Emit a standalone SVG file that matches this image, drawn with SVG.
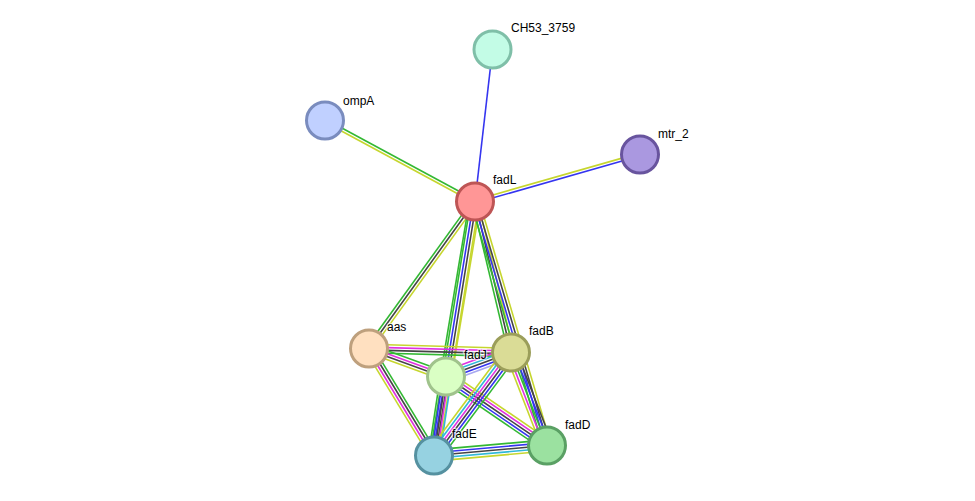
<svg xmlns="http://www.w3.org/2000/svg" width="975" height="501" viewBox="0 0 975 501">
<style>
line{stroke-width:1.6;fill:none}
.g{stroke:#33b833}.b{stroke:#3535f0}.k{stroke:#454545}.y{stroke:#c6d62e}.m{stroke:#e030e0}.c{stroke:#30b8d8}.l{stroke:#a8a8f0}
circle{stroke-width:3}
text{font-family:"Liberation Sans",Arial,sans-serif;font-size:12px;fill:#000;stroke:#fff;stroke-width:2.5;stroke-opacity:0.6;paint-order:stroke}
</style>
<rect width="975" height="501" fill="#fff"/>
<g id="connectors">
 <g transform="translate(475,201.5) rotate(-83.43)"><line x2="153" class="b"/></g>
 <g transform="translate(475,201.5) rotate(-151.63)"><line x2="170.5" y1="1.4" y2="1.4" class="g"/><line x2="170.5" y1="-1.4" y2="-1.4" class="y"/></g>
 <g transform="translate(475,201.5) rotate(-15.9)"><line x2="171.6" y1="-1.4" y2="-1.4" class="y"/><line x2="171.6" y1="1.4" y2="1.4" class="b"/></g>
 <g transform="translate(475,201.5) rotate(125.8)"><line x2="181.2" y1="2.8" y2="2.8" class="g"/><line x2="181.2" class="k"/><line x2="181.2" y1="-2.8" y2="-2.8" class="y"/></g>
 <g transform="translate(475,201.5) rotate(99.41)"><line x2="177.4" y1="5.6" y2="5.6" class="g"/><line x2="177.4" y1="-5.6" y2="-5.6" class="y"/></g>
 <g transform="translate(475,201.5) rotate(99.17)"><line x2="257.3" y1="4.2" y2="4.2" class="g"/><line x2="257.3" y1="1.4" y2="1.4" class="b"/><line x2="257.3" y1="-1.4" y2="-1.4" class="k"/><line x2="257.3" y1="-4.2" y2="-4.2" class="y"/></g>
 <g transform="translate(475,201.5) rotate(76.59)"><line x2="155.2" y1="2.8" y2="2.8" class="g"/><line x2="155.2" class="k"/><line x2="155.2" y1="-2.8" y2="-2.8" class="y"/></g>
 <g transform="translate(475,201.5) rotate(73.56)"><line x2="254.4" y1="4.2" y2="4.2" class="g"/><line x2="254.4" y1="1.4" y2="1.4" class="b"/><line x2="254.4" y1="-1.4" y2="-1.4" class="k"/><line x2="254.4" y1="-4.2" y2="-4.2" class="y"/></g>
 <g transform="translate(369,348.5) rotate(1.61)"><line x2="142.1" y1="-4.2" y2="-4.2" class="y"/><line x2="142.1" y1="-1.4" y2="-1.4" class="m"/><line x2="142.1" y1="1.4" y2="1.4" class="k"/><line x2="142.1" y1="4.2" y2="4.2" class="g"/></g>
 <g transform="translate(369,348.5) rotate(19.98)"><line x2="81.9" y1="-4.2" y2="-4.2" class="g"/><line x2="81.9" y1="-1.4" y2="-1.4" class="m"/><line x2="81.9" y1="1.4" y2="1.4" class="k"/><line x2="81.9" y1="4.2" y2="4.2" class="y"/></g>
 <g transform="translate(369,348.5) rotate(58.72)"><line x2="125.2" y1="4.2" y2="4.2" class="y"/><line x2="125.2" y1="1.4" y2="1.4" class="m"/><line x2="125.2" y1="-1.4" y2="-1.4" class="k"/><line x2="125.2" y1="-4.2" y2="-4.2" class="g"/></g>
 <g transform="translate(446,376.5) rotate(-20.26)"><line x2="69.3" y1="-5.6" y2="-5.6" class="m"/><line x2="69.3" y1="-2.8" y2="-2.8" class="c"/><line x2="69.3" class="k"/><line x2="69.3" y1="2.8" y2="2.8" class="b"/><line x2="69.3" y1="5.6" y2="5.6" class="l"/></g>
 <g transform="translate(446,376.5) rotate(98.64)"><line x2="79.9" y1="5.6" y2="5.6" class="g"/><line x2="79.9" y1="2.8" y2="2.8" class="b"/><line x2="79.9" class="k"/><line x2="79.9" y1="-2.8" y2="-2.8" class="m"/><line x2="79.9" y1="-5.6" y2="-5.6" class="c"/></g>
 <g transform="translate(446,376.5) rotate(34.34)"><line x2="122.3" y1="-5.6" y2="-5.6" class="y"/><line x2="122.3" y1="-2.8" y2="-2.8" class="m"/><line x2="122.3" class="k"/><line x2="122.3" y1="2.8" y2="2.8" class="b"/><line x2="122.3" y1="5.6" y2="5.6" class="g"/></g>
 <g transform="translate(511,352.5) rotate(126.78)"><line x2="128.6" y1="7" y2="7" class="y"/><line x2="128.6" y1="4.2" y2="4.2" class="c"/><line x2="128.6" y1="1.4" y2="1.4" class="m"/><line x2="128.6" y1="-1.4" y2="-1.4" class="k"/><line x2="128.6" y1="-4.2" y2="-4.2" class="b"/><line x2="128.6" y1="-7" y2="-7" class="g"/></g>
 <g transform="translate(511,352.5) rotate(68.84)"><line x2="99.7" y1="5.6" y2="5.6" class="y"/><line x2="99.7" y1="2.8" y2="2.8" class="m"/><line x2="99.7" class="g"/><line x2="99.7" y1="-2.8" y2="-2.8" class="b"/><line x2="99.7" y1="-5.6" y2="-5.6" class="k"/></g>
 <g transform="translate(434,455.5) rotate(-5.06)"><line x2="113.4" y1="-5.6" y2="-5.6" class="g"/><line x2="113.4" y1="-2.8" y2="-2.8" class="b"/><line x2="113.4" class="k"/><line x2="113.4" y1="2.8" y2="2.8" class="c"/><line x2="113.4" y1="5.6" y2="5.6" class="y"/></g>
</g>
<g id="CH53_3759"><circle cx="492.5" cy="49.5" r="18.5" fill="#c3fce6" stroke="#7fbfa8"/><text x="511" y="32">CH53_3759</text></g>
<g id="ompA"><circle cx="325" cy="120.5" r="18.5" fill="#c0d0ff" stroke="#7a8cbe"/><text x="343" y="104.5">ompA</text></g>
<g id="mtr_2"><circle cx="640" cy="154.5" r="18.5" fill="#aa98e0" stroke="#68549e"/><text x="658" y="137.5">mtr_2</text></g>
<g id="fadL"><circle cx="475" cy="201.5" r="18.5" fill="#ff9696" stroke="#be5555"/><text x="493" y="184">fadL</text></g>
<g id="aas"><circle cx="369" cy="348.5" r="18.5" fill="#ffe0c0" stroke="#bea07d"/><text x="387" y="331">aas</text></g>
<g id="fadB"><circle cx="511" cy="352.5" r="18.5" fill="#dadc96" stroke="#9b9e5a"/><text x="529" y="335">fadB</text></g>
<g id="fadJ"><circle cx="446" cy="376.5" r="18.5" fill="#daffc4" stroke="#a0c38c"/><text x="464" y="358.5">fadJ</text></g>
<g id="fadE"><circle cx="434" cy="455.5" r="18.5" fill="#96d2e1" stroke="#5591a0"/><text x="452" y="438">fadE</text></g>
<g id="fadD"><circle cx="547" cy="445.5" r="18.5" fill="#9be1a0" stroke="#5aa064"/><text x="565" y="428.5">fadD</text></g>
</svg>
